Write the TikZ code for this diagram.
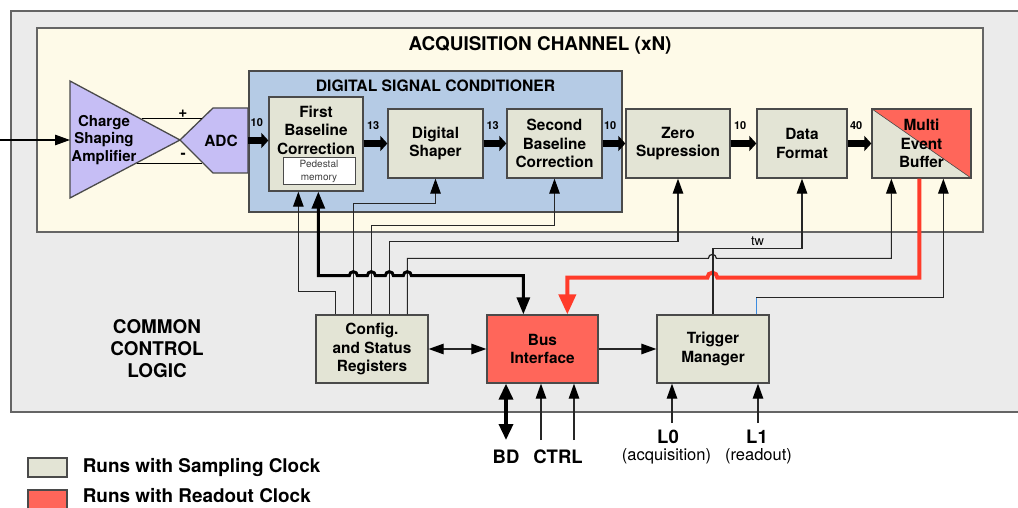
\documentclass[tikz,border=0pt]{standalone}
\usepackage{fontspec}
\setmainfont{TeX Gyre Heros}
\usepackage{xcolor}
\usepackage{tikz}
\usetikzlibrary{arrows.meta, positioning}

\definecolor{cclgray}{HTML}{EBEBEB}
\definecolor{acqcream}{HTML}{FEFAE8}
\definecolor{dscblue}{HTML}{B5CBE5}
\definecolor{sampclk}{HTML}{E3E4D5}
\definecolor{readclk}{HTML}{FF665A}
\definecolor{csaviolet}{HTML}{C6BEF5}
\definecolor{readwire}{HTML}{FF3B2A}
\definecolor{edgegray}{HTML}{4A4A4A}
\definecolor{tmblue}{HTML}{3C8CE0}

\begin{document}
\begin{tikzpicture}[x=1pt, y=-1pt, >={Triangle[length=15pt, width=10.5pt, color=black]},
    blk/.style={draw=edgegray, line width=1.3pt, fill=sampclk, align=center,
        inner sep=0pt, font=\fontsize{15.4}{18.5}\selectfont\bfseries},
    txt/.style={align=center, inner sep=0pt, font=\fontsize{15.4}{18.5}\selectfont\bfseries},
    hdr/.style={align=center, inner sep=0pt, font=\fontsize{18.9}{22}\selectfont\bfseries},
    lbl/.style={inner sep=0pt, font=\fontsize{18.5}{20}\selectfont\bfseries},
    subl/.style={inner sep=0pt, font=\fontsize{16.5}{18}\selectfont},
    leg/.style={inner sep=0pt, font=\fontsize{18.9}{20}\selectfont\bfseries},
    wire/.style={draw=black!85, line width=1.2pt, ->},
    dwire/.style={draw=black!85, line width=1.2pt, <->},
    dpath/.style={line width=7pt, -{Triangle[length=7pt, width=15pt]}},
    dlbl/.style={inner sep=0pt, pos=0.4, above=10pt, font=\fontsize{11}{12}\selectfont\bfseries},
    tbus/.style={line width=3pt, {Triangle[length=17pt, width=13pt]}-{Triangle[length=17pt, width=13pt]}},
    rwire/.style={draw=readwire, line width=4pt, -{Triangle[length=20pt, width=17pt]}},
    bdwire/.style={line width=3.5pt, {Triangle[length=16pt, width=14pt]}-{Triangle[length=16pt, width=14pt]}}]
    % 1. Khung nền
    \useasboundingbox (0,0) rectangle (1018,508);
    \draw[draw=edgegray!85, line width=1.4pt, fill=cclgray] (11,11) rectangle (1040,412);
    \draw[draw=edgegray!85, line width=1.4pt, fill=acqcream] (37,28) rectangle (983,232);
    \node[hdr] (acqtitle) at (540,45) {ACQUISITION CHANNEL (xN)};
    \draw[draw=edgegray, line width=1.3pt, fill=dscblue] (249,71) rectangle (622,212);
    \node[txt, font=\fontsize{15.7}{18}\selectfont\bfseries] (dsctitle) at (435.5,86) {DIGITAL SIGNAL CONDITIONER};
    \node[hdr] (ccltitle) at (157,349) {COMMON\\CONTROL\\LOGIC};

    % 2. Bộ khuếch đại và ADC
    \draw[draw=edgegray, line width=1.3pt, fill=csaviolet] (70,81) -- (180,140) -- (70,198) -- cycle;
    \draw[draw=edgegray, line width=1.3pt, fill=csaviolet]
        (180,140) -- (213,108) -- (248,108) -- (248,173) -- (213,173) -- cycle;
    \draw[line width=1pt] (142,119) -- (202,119) node[txt, pos=0.68, above=1pt] (plus) {+};
    \draw[line width=1pt] (137,164) -- (202,164) node[txt, pos=0.71, above=5pt] (minus) {-};
    \node[txt, font=\fontsize{15}{17.5}\selectfont\bfseries] (csa) at (104,140) {Charge\\Shaping\\Amplifier};
    \node[txt] (adc) at (221,140.5) {ADC};
    \coordinate (vin) at (0,140);
    \coordinate (csain) at (70,140);
    \coordinate (adcout) at (248,140.5);
    \draw[wire, draw=black] (vin) -- (csain);

    % 3. Các khối xử lý tín hiệu
    \node[blk, minimum width=94, minimum height=94] (fbc) at (316,144) {};
    \node[txt, below=9pt of fbc.north] (fbctxt) {First\\Baseline\\Correction};
    \node[draw=edgegray, line width=1pt, fill=white, minimum width=72, minimum height=27,
        inner sep=0pt, align=center, text=black!75, font=\fontsize{10}{12.5}\selectfont]
        (ped) at (319,171.5) {Pedestal\\memory};
    \node[blk, minimum width=95, minimum height=69] (ds) at (435.5,143.5) {Digital\\Shaper};
    \node[blk, minimum width=95, minimum height=69] (sbc) at (554.5,143.5) {Second\\Baseline\\Correction};
    \node[blk, minimum width=104, minimum height=69] (zs) at (678,143.5) {Zero\\Supression};
    \node[blk, minimum width=90, minimum height=69] (df) at (802,143.5) {Data\\Format};
    \node[blk, minimum width=99, minimum height=69, path picture={
        \fill[readclk] (path picture bounding box.north west) -- (path picture bounding box.north east)
            -- (path picture bounding box.south east) -- cycle;
        \draw[edgegray, line width=0.6pt] (path picture bounding box.north west)
            -- (path picture bounding box.south east);}]
        (meb) at (921.5,143.5) {Multi\\Event\\Buffer};

    % 4. Logic điều khiển chung
    \node[blk, minimum width=112, minimum height=68] (csr) at (372,349) {Config.\\and Status\\Registers};
    \node[blk, fill=readclk, minimum width=111, minimum height=68] (bus) at (542.5,349) {Bus\\Interface};
    \node[blk, minimum width=112, minimum height=68] (tm) at (713,349) {Trigger\\Manager};

    % 5. Đường dữ liệu
    \draw[dpath] (adcout) -- node[dlbl, pos=0.43] (wadc) {10} (adcout -| fbc.west);
    \draw[dpath] (fbc.east |- ds) -- node[dlbl] (wfbc) {13} (ds.west);
    \draw[dpath] (ds.east) -- node[dlbl] (wds) {13} (sbc.west);
    \draw[dpath] (sbc.east) -- node[dlbl, pos=0.33] (wsbc) {10} (zs.west);
    \draw[dpath] (zs.east) -- node[dlbl, pos=0.37] (wzs) {10} (df.west);
    \draw[dpath] (df.east) -- node[dlbl, pos=0.36] (wdf) {40} (meb.west);

    % 6. Dây cấu hình
    \draw[wire] ([xshift=20]csr.north west) -- ++(0,-23) -| ([xshift=30]fbc.south west);
    \draw[wire] ([xshift=38]csr.north west) -- ++(0,-111) -| (ds.south);
    \draw[wire] ([xshift=56]csr.north west) -- ++(0,-89) -| (sbc.south);
    \draw[wire] ([xshift=74]csr.north west) -- ++(0,-73) -| (zs.south);
    \draw[wire] ([xshift=92]csr.north west) -- ++(0,-56) -- ++(301,0)
        arc[start angle=180, end angle=0, radius=4pt] -| ([xshift=20]meb.south west);
    \draw[tbus] ([xshift=50]fbc.south west) -- ++(0,84) -- ++(31,0)
        arc[start angle=180, end angle=0, radius=4pt] -- ++(10,0)
        arc[start angle=180, end angle=0, radius=4pt] -- ++(10,0)
        arc[start angle=180, end angle=0, radius=4pt] -- ++(10,0)
        arc[start angle=180, end angle=0, radius=4pt] -| ([xshift=37]bus.north west);
    \draw[rwire] ([xshift=48]meb.south west) -- ++(0,99) -- ++(-202,0)
        arc[start angle=0, end angle=180, radius=5pt] -| ([xshift=81]bus.north west);
    \draw[wire] (tm.north) -- ++(0,-66) -| node[pos=0.25, above=2pt, inner sep=0pt,
        font=\fontsize{13}{14}\selectfont] (twlbl) {tw} (df.south);
    \coordinate (tmtap) at ([xshift=100]tm.north west);
    \draw[tmblue, line width=1pt] (tmtap) -- ++(0,-17) coordinate (tmbend);
    \draw[wire] (tmbend) -| ([xshift=72]meb.south west);
    \draw[dwire] (csr.east) -- (bus.west);
    \draw[wire] (bus.east) -- (tm.west);

    % 7. Tín hiệu vào ra
    \coordinate (bdend) at (506,440);
    \coordinate (ctrla) at (541,440);
    \coordinate (ctrlb) at (574,440);
    \coordinate (lzero) at (672,423);
    \coordinate (lone) at (758,423);
    \draw[bdwire] (bdend) -- (bdend |- bus.south);
    \draw[wire] (ctrla) -- (ctrla |- bus.south);
    \draw[wire] (ctrlb) -- (ctrlb |- bus.south);
    \draw[wire] (lzero) -- (lzero |- tm.south);
    \draw[wire] (lone) -- (lone |- tm.south);
    \node[lbl] (bd) at (506,457) {BD};
    \node[lbl] (ctrl) at (558,457) {CTRL};
    \node[lbl] (l0) at (668,437) {L0};
    \node[subl] (l0sub) at (666.5,456) {(acquisition)};
    \node[lbl] (l1) at (757,437) {L1};
    \node[subl] (l1sub) at (758.5,456) {(readout)};

    % 8. Chú thích
    \node[blk, minimum width=39, minimum height=19] (lgsamp) at (47.5,467.5) {};
    \node[leg, right=15pt of lgsamp] (lgsamptxt) {Runs with Sampling Clock};
    \node[blk, fill=readclk, minimum width=39, minimum height=19] (lgread) at (47.5,499.5) {};
    \node[leg, right=15pt of lgread, yshift=3.5pt] (lgreadtxt) {Runs with Readout Clock};
\end{tikzpicture}
\end{document}
